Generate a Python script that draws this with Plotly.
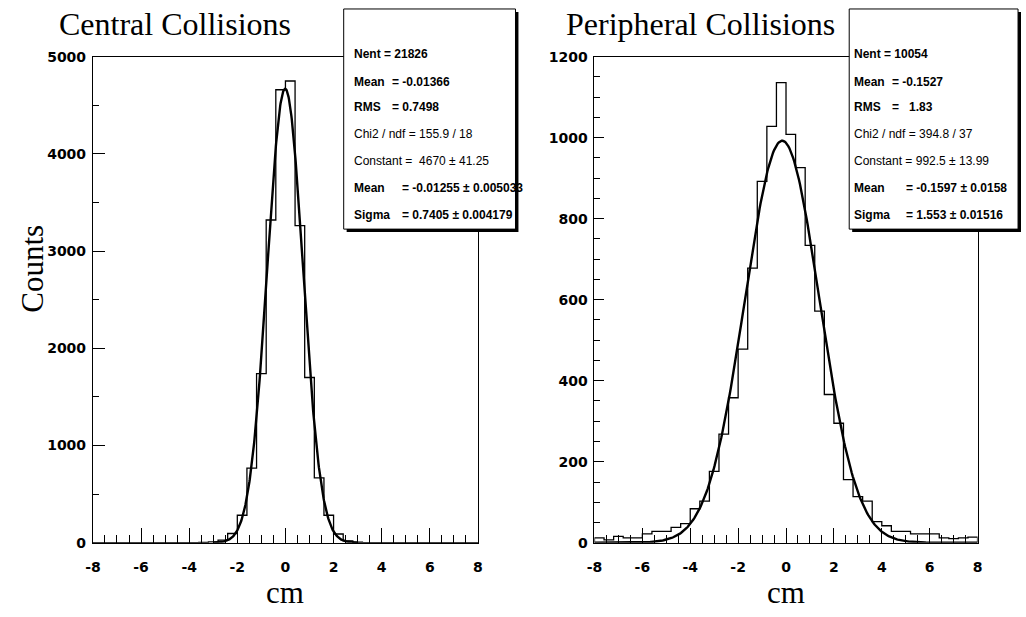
import numpy as np
import plotly.graph_objects as go

W, H = 1026, 617

# ---------------- data ----------------
bin_edges = [round(-8 + 0.4 * i, 1) for i in range(41)]

central_counts = [0, 0, 0, 0, 0, 0, 0, 0, 0, 0,
                  0, 3, 10, 28, 95, 283, 767, 1740, 3320, 4660,
                  4750, 3263, 1700, 667, 283, 90, 20, 5, 0, 0,
                  0, 0, 0, 0, 0, 0, 0, 0, 0, 0]

peripheral_counts = [12, 7, 16, 12, 12, 22, 28, 28, 38, 47,
                     84, 103, 176, 268, 358, 478, 678, 892, 1028, 1136,
                     1008, 926, 734, 572, 366, 295, 156, 114, 103, 52,
                     42, 28, 28, 22, 22, 22, 12, 10, 12, 14]

# Gaussian fit parameters (from the stats boxes)
central_fit = dict(constant=4670, mean=-0.01255, sigma=0.7405, xmin=-3.0, xmax=3.0)
peripheral_fit = dict(constant=992.5, mean=-0.1597, sigma=1.553, xmin=-8.0, xmax=8.0)

x_tick_vals = [-8, -6, -4, -2, 0, 2, 4, 6, 8]
x_tick_text = ["-8", "-6", "-4", "-2", "0", "2", "4", "6", "8"]
central_y_ticks = [0, 1000, 2000, 3000, 4000, 5000]
peripheral_y_ticks = [0, 200, 400, 600, 800, 1000, 1200]

central_stats = [
    ("Nent = 21826", None, True),
    ("Mean", "= -0.01366", True),
    ("RMS", "= 0.7498", True),
    ("Chi2 / ndf = 155.9 / 18", None, False),
    ("Constant =  4670 \u00b1 41.25", None, False),
    ("Mean", "= -0.01255 \u00b1 0.005033", True),
    ("Sigma", "= 0.7405 \u00b1 0.004179", True),
]
peripheral_stats = [
    ("Nent = 10054", None, True),
    ("Mean", "= -0.1527", True),
    ("RMS", "=   1.83", True),
    ("Chi2 / ndf = 394.8 / 37", None, False),
    ("Constant = 992.5 \u00b1 13.99", None, False),
    ("Mean", "= -0.1597 \u00b1 0.0158", True),
    ("Sigma", "= 1.553 \u00b1 0.01516", True),
]


def px(x):
    return x / W


def py(y):
    return 1 - y / H


def step_xy(edges, counts):
    xs = [edges[0]] + list(edges[:-1]) + [edges[-1], edges[-1]]
    ys = [0] + list(counts) + [counts[-1], 0]
    return xs, ys


def gauss(p, n=400):
    x = np.linspace(p["xmin"], p["xmax"], n)
    y = p["constant"] * np.exp(-0.5 * ((x - p["mean"]) / p["sigma"]) ** 2)
    return x, y


fig = go.Figure()

for counts, fit, xa, ya in [(central_counts, central_fit, "x", "y"),
                            (peripheral_counts, peripheral_fit, "x2", "y2")]:
    hx, hy = step_xy(bin_edges, counts)
    fig.add_trace(go.Scatter(x=hx, y=hy, mode="lines", line_shape="hv",
                             line=dict(color="black", width=1.3),
                             xaxis=xa, yaxis=ya, showlegend=False, hoverinfo="skip"))
    fx, fy = gauss(fit)
    fig.add_trace(go.Scatter(x=fx, y=fy, mode="lines",
                             line=dict(color="black", width=2.4),
                             xaxis=xa, yaxis=ya, showlegend=False, hoverinfo="skip"))

tick_font = dict(family="DejaVu Sans, Liberation Sans, sans-serif", size=14, color="black",
                 weight="bold")

common_x = dict(range=[-8, 8], tickvals=x_tick_vals, ticktext=x_tick_text, ticks="inside",
                ticklen=15, tickcolor="black", tickwidth=1, showline=True, linecolor="black",
                linewidth=1, mirror=True, showgrid=False, zeroline=False,
                tickfont=tick_font, ticklabelstandoff=11,
                minor=dict(dtick=0.5, tick0=0, ticks="inside", ticklen=8, tickcolor="black",
                           showgrid=False))
common_y = dict(ticks="inside", tickcolor="black", tickwidth=1, showline=True,
                linecolor="black", linewidth=1, mirror=True, showgrid=False,
                zeroline=False, tickfont=tick_font, ticklabelstandoff=3)

fig.update_layout(
    width=W, height=617, autosize=False,
    margin=dict(l=0, r=0, t=0, b=0),
    paper_bgcolor="white", plot_bgcolor="white",
    xaxis=dict(domain=[px(86), px(476)], anchor="y", **common_x),
    yaxis=dict(domain=[py(549), py(50)], anchor="x", range=[0, 5000],
               tickvals=central_y_ticks, ticklen=12,
               minor=dict(dtick=500, tick0=0, ticks="inside", ticklen=6, tickcolor="black"),
               **common_y),
    xaxis2=dict(domain=[px(594), px(982)], anchor="y2", **common_x),
    yaxis2=dict(domain=[py(549), py(50)], anchor="x2", range=[0, 1200],
                tickvals=peripheral_y_ticks, ticklen=10,
                minor=dict(dtick=50, tick0=0, ticks="inside", ticklen=6, tickcolor="black"),
                **common_y),
)

shapes = []
annotations = []
serif = "Liberation Serif, Times New Roman, serif"
sans = "Liberation Sans, Arial, sans-serif"

# stats boxes
for (bx0, bx1, by0, by1, stats, tx, vx) in [
        (340, 514, 1, 227, central_stats, 348, [None, 387, 387, None, None, 397, 397]),
        (852, 1023, 1, 227, peripheral_stats, 855, [None, 893, 893, None, None, 908, 908])]:
    shapes.append(dict(type="rect", xref="paper", yref="paper",
                       x0=px(bx0 + 3), x1=px(bx1 + 3), y0=py(by1 + 3), y1=py(by0 + 3),
                       fillcolor="black", line=dict(width=0), layer="above"))
    shapes.append(dict(type="rect", xref="paper", yref="paper",
                       x0=px(bx0), x1=px(bx1), y0=py(by1), y1=py(by0),
                       fillcolor="white", line=dict(color="black", width=1), layer="above"))
    rows = [47, 76, 102, 129, 157, 185, 213]
    for (lab, val, bold), ry, vxx in zip(stats, rows, vx):
        f = dict(family=sans, size=12, color="black", weight="bold" if bold else "normal")
        annotations.append(dict(text=lab, x=px(tx), y=py(ry), xref="paper", yref="paper",
                                xanchor="left", yanchor="middle", showarrow=False, font=f))
        if val is not None:
            annotations.append(dict(text=val, x=px(vxx), y=py(ry), xref="paper", yref="paper",
                                    xanchor="left", yanchor="middle", showarrow=False, font=f))

# titles and axis labels
annotations.append(dict(text="Central Collisions", x=px(50), y=py(16), xref="paper", yref="paper",
                        xanchor="left", yanchor="middle", showarrow=False,
                        font=dict(family=serif, size=32, color="black")))
annotations.append(dict(text="Peripheral Collisions", x=px(563), y=py(16), xref="paper", yref="paper",
                        xanchor="left", yanchor="middle", showarrow=False,
                        font=dict(family=serif, size=32, color="black")))
for cx in (281, 788):
    annotations.append(dict(text="cm", x=px(cx), y=py(600), xref="paper", yref="paper",
                            xanchor="center", yanchor="middle", showarrow=False,
                            font=dict(family=serif, size=31, color="black")))
annotations.append(dict(text="Counts", x=px(24), y=py(268), xref="paper", yref="paper",
                        xanchor="center", yanchor="middle", showarrow=False, textangle=-90,
                        font=dict(family=serif, size=31, color="black")))

fig.update_layout(shapes=shapes, annotations=annotations)

fig.write_html("out.html")
